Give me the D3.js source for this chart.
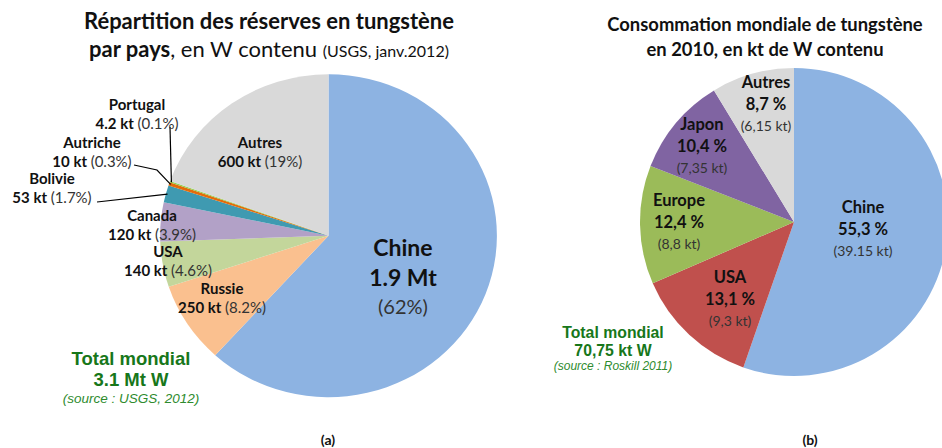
<!DOCTYPE html>
<html>
<head>
<meta charset="utf-8">
<script src="https://cdn.jsdelivr.net/npm/d3@7"></script>
<style>
  body { margin: 0; background: #fff; }
  svg { display: block; font-family: Lato, "Open Sans", sans-serif; }
</style>
</head>
<body>
<svg id="chart"></svg>
<script>
// --Data
// (a) reserves by country, kt of contained W (USGS, jan. 2012)
var reserveNames = ["Chine", "Russie", "USA", "Canada", "Bolivie", "Autriche", "Portugal", "Autres"];
var reserveValues = [1900, 250, 140, 120, 53, 10, 4.2, 600];
var reserveAmounts = ["1.9 Mt", "250 kt", "140 kt", "120 kt", "53 kt", "10 kt", "4.2 kt", "600 kt"];
var reservePcts = ["(62%)", "(8.2%)", "(4.6%)", "(3.9%)", "(1.7%)", "(0.3%)", "(0.1%)", "(19%)"];

// (b) world consumption 2010, kt of contained W (Roskill 2011)
var consoNames = ["Chine", "USA", "Europe", "Japon", "Autres"];
var consoValues = [39.15, 9.3, 8.8, 7.35, 6.15];
var consoPcts = ["55,3 %", "13,1 %", "12,4 %", "10,4 %", "8,7 %"];
var consoKt = ["(39.15 kt)", "(9,3 kt)", "(8,8 kt)", "(7,35 kt)", "(6,15 kt)"];

// --Styles / layout
var canvas = { width: 942, height: 448 };
var colorsA = {
  Chine: "#8DB3E2", Russie: "#FAC08F", USA: "#C3D69B", Canada: "#B2A1C7",
  Bolivie: "#3F9AB1", Autriche: "#E46C0A", Portugal: "#92D050", Autres: "#D9D9D9"
};
var colorsB = { Chine: "#8DB3E2", USA: "#C0504D", Europe: "#9BBB59", Japon: "#8064A2", Autres: "#D9D9D9" };

// label anchor (x, y of first line) for each slice
var labelPosA = {
  Chine: [403, 256], Russie: [222, 294], USA: [168, 257], Canada: [152, 221],
  Bolivie: [52, 184], Autriche: [92, 148], Portugal: [137, 110], Autres: [260, 148]
};
var labelPosB = {
  Chine: [863, 213], USA: [730, 283], Europe: [679, 206], Japon: [702, 130], Autres: [766, 88]
};
// leader line start points for the small slices
var leaderA = {
  Portugal: [[170, 127]],
  Autriche: [[134, 165], [157, 170]],
  Bolivie: [[97, 202]]
};

var root = d3.select("#chart")
  .attr("width", canvas.width)
  .attr("height", canvas.height);

var pie = d3.pie().sort(null).value(d => d);

// --(a) reserves pie
var pieA = { cx: 328.5, cy: 235.7, rx: 168.4, ry: 161.5 };
var arcA = d3.arc().innerRadius(0).outerRadius(pieA.rx);
var gA = root.append("g")
  .attr("transform", "translate(" + pieA.cx + "," + pieA.cy + ") scale(1," + (pieA.ry / pieA.rx) + ")");
var arcsA = pie(reserveValues);
gA.selectAll("path")
  .data(arcsA)
  .enter()
  .append("path")
  .attr("d", arcA)
  .attr("fill", (d, i) => colorsA[reserveNames[i]]);

// leader lines for the thin slices
Object.keys(leaderA).forEach(name => {
  var i = reserveNames.indexOf(name);
  var a = (arcsA[i].startAngle + arcsA[i].endAngle) / 2;
  var end = [pieA.cx + Math.sin(a) * pieA.rx * 0.99, pieA.cy - Math.cos(a) * pieA.ry * 0.99];
  root.append("path")
    .attr("d", d3.line()(leaderA[name].concat([end])))
    .attr("fill", "none")
    .attr("stroke", "#000")
    .attr("stroke-width", 1.2);
});

reserveNames.forEach((name, i) => {
  var p = labelPosA[name];
  var big = name === "Chine";
  var t = root.append("text")
    .attr("text-anchor", "middle")
    .attr("x", p[0])
    .attr("y", p[1])
    .style("font-size", big ? "23px" : "15px");
  t.append("tspan").attr("x", p[0]).attr("font-weight", "bold").attr("fill", "#111").text(name);
  if (big) {
    t.append("tspan").attr("x", p[0]).attr("dy", 30).attr("font-weight", "bold").attr("fill", "#111").text(reserveAmounts[i]);
    t.append("tspan").attr("x", p[0]).attr("dy", 28).attr("fill", "#333").style("font-size", "20px").text(reservePcts[i]);
  } else {
    var l2 = t.append("tspan").attr("x", p[0]).attr("dy", 19);
    l2.append("tspan").attr("font-weight", "bold").attr("fill", "#111").text(reserveAmounts[i] + " ");
    l2.append("tspan").attr("fill", "#333").text(reservePcts[i]);
  }
});

// title (a)
var titleA = root.append("text").attr("text-anchor", "middle").attr("fill", "#111").style("font-size", "22px");
titleA.append("tspan").attr("x", 269).attr("y", 29).attr("font-weight", "bold").text("Répartition des réserves en tungstène");
var tA2 = titleA.append("tspan").attr("x", 269).attr("y", 57);
tA2.append("tspan").attr("font-weight", "bold").text("par pays");
tA2.append("tspan").text(", en W contenu ");
tA2.append("tspan").style("font-size", "16px").text("(USGS, janv.2012)");

// total (a)
var totA = root.append("g").attr("font-family", "'Liberation Sans', Arial, sans-serif").attr("text-anchor", "middle");
totA.append("text").attr("x", 131).attr("y", 365).attr("fill", "#17771A").attr("font-weight", "bold").style("font-size", "18.5px").text("Total mondial");
totA.append("text").attr("x", 131).attr("y", 386).attr("fill", "#17771A").attr("font-weight", "bold").style("font-size", "18.5px").text("3.1 Mt W");
totA.append("text").attr("x", 131).attr("y", 403).attr("fill", "#2E8B2E").attr("font-style", "italic").style("font-size", "13.5px").text("(source : USGS, 2012)");

// --(b) consumption pie
var pieB = { cx: 794, cy: 222, r: 154 };
var arcB = d3.arc().innerRadius(0).outerRadius(pieB.r);
var gB = root.append("g").attr("transform", "translate(" + pieB.cx + "," + pieB.cy + ")");
gB.selectAll("path")
  .data(pie(consoValues))
  .enter()
  .append("path")
  .attr("d", arcB)
  .attr("fill", (d, i) => colorsB[consoNames[i]]);

consoNames.forEach((name, i) => {
  var p = labelPosB[name];
  var t = root.append("text")
    .attr("text-anchor", "middle")
    .attr("x", p[0])
    .attr("y", p[1])
    .attr("fill", "#111");
  t.append("tspan").attr("x", p[0]).attr("font-weight", "bold").style("font-size", "16.5px").text(name);
  t.append("tspan").attr("x", p[0]).attr("dy", 22).attr("font-weight", "bold").style("font-size", "16.5px").text(consoPcts[i]);
  t.append("tspan").attr("x", p[0]).attr("dy", 21).attr("fill", "#333").style("font-size", "14px").text(consoKt[i]);
});

// title (b)
var titleB = root.append("text").attr("text-anchor", "middle").attr("fill", "#111")
  .attr("font-weight", "bold").style("font-size", "18.4px");
titleB.append("tspan").attr("x", 765).attr("y", 31).text("Consommation mondiale de tungstène");
titleB.append("tspan").attr("x", 765).attr("y", 56).text("en 2010, en kt de W contenu");

// total (b)
var totB = root.append("g").attr("font-family", "'Liberation Sans', Arial, sans-serif").attr("text-anchor", "middle");
totB.append("text").attr("x", 613).attr("y", 338).attr("fill", "#17771A").attr("font-weight", "bold").style("font-size", "15.8px").text("Total mondial");
totB.append("text").attr("x", 613).attr("y", 356).attr("fill", "#17771A").attr("font-weight", "bold").style("font-size", "15.8px").text("70,75 kt W");
totB.append("text").attr("x", 613).attr("y", 370).attr("fill", "#2E8B2E").attr("font-style", "italic").style("font-size", "12px").text("(source : Roskill 2011)");

// panel tags
root.append("text").attr("x", 328).attr("y", 445).attr("text-anchor", "middle").attr("font-weight", "bold").style("font-size", "14px").attr("fill", "#111").text("(a)");
root.append("text").attr("x", 810).attr("y", 445).attr("text-anchor", "middle").attr("font-weight", "bold").style("font-size", "14px").attr("fill", "#111").text("(b)");
</script>
</body>
</html>
